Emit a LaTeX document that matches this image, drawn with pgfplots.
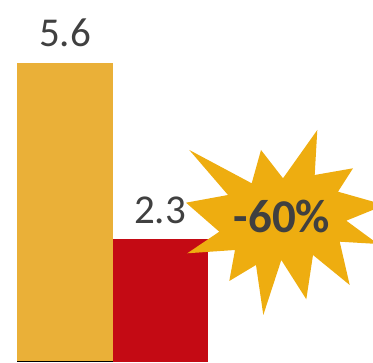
\documentclass[border=0pt]{standalone}
\usepackage{fontspec}
\setmainfont{Carlito}
\usepackage{pgfplots}
\pgfplotsset{compat=1.18}
\definecolor{baryellow}{HTML}{EAB038}
\definecolor{barred}{HTML}{C40A14}
\definecolor{burst}{HTML}{EEAD10}
\definecolor{txt}{HTML}{404040}
\definecolor{baseline}{HTML}{B8922E}
\begin{document}
\begin{tikzpicture}[x=1pt,y=1pt]
\begin{axis}[
  at={(0,0)}, anchor=south west,
  scale only axis, width=373pt, height=363pt,
  xmin=-0.6842, xmax=3.2421,
  ymin=-0.0187, ymax=6.779,
  axis lines=none, ticks=none,
  enlargelimits=false, clip=false,
  /pgf/number format/assume math mode=true,
  /pgf/number format/fixed, /pgf/number format/precision=1,
  /pgf/number format/fixed zerofill,
  nodes near coords,
  every node near coord/.style={anchor=base, yshift=16pt, text=txt, font=\fontsize{41}{41}\selectfont, inner sep=0pt},
]
\addplot[ybar, bar width=1, bar shift=0, fill=baryellow, draw=none] coordinates {(0,5.6)};
\addplot[ybar, bar width=1, bar shift=0, fill=barred, draw=none] coordinates {(1,2.3)};
\draw[baseline, line width=1pt] (axis cs:-0.5,0.0094) -- (axis cs:0.5,0.0094);
\end{axis}
\begin{scope}[shift={(0,363)}, yscale=-1]
\fill[burst] (189.3,150) -- (251.7,183.3) -- (261,150) -- (283,178.3) -- (317.3,130) -- (314.7,175)
 -- (353,168.3) -- (338,191.7) -- (385,205) -- (346.3,220.7) -- (378,244) -- (339.7,241.7)
 -- (349.7,285) -- (313,255) -- (306.3,299.3) -- (281.3,260) -- (263.3,315) -- (256,265)
 -- (229.3,281) -- (235,250) -- (187.3,253.3) -- (219.3,231.7) -- (186,202.7) -- (228,195) -- cycle;
\end{scope}
\node[anchor=base, inner sep=0pt, text=txt, font=\bfseries\fontsize{47}{47}\selectfont] at (282,130) {-60\%};
\pgfresetboundingbox
\useasboundingbox (0,0) rectangle (373,363);
\end{tikzpicture}
\end{document}
